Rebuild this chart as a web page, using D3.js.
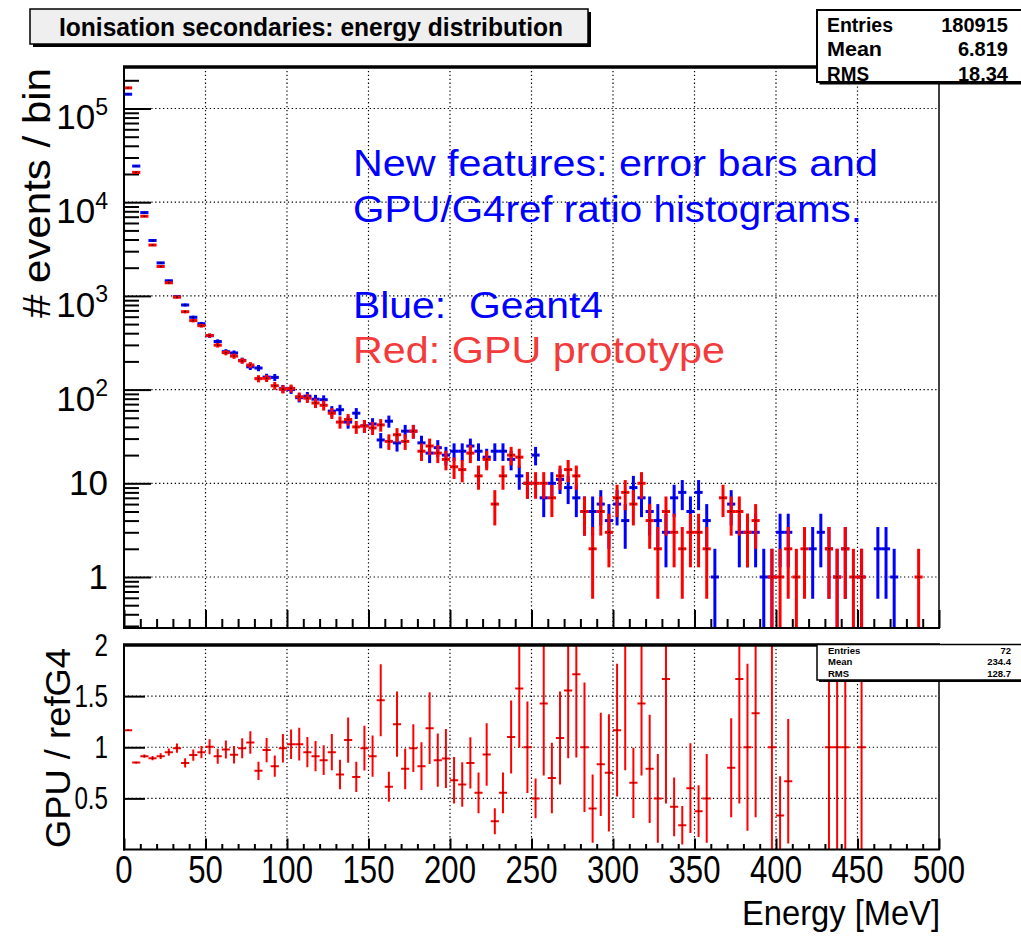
<!DOCTYPE html>
<html>
<head>
<meta charset="utf-8">
<script src="https://cdn.jsdelivr.net/npm/d3@7"></script>
<style>
  html, body { margin: 0; padding: 0; background: #ffffff; }
  svg { display: block; }
  text { font-family: "Liberation Sans", Arial, Helvetica, sans-serif; white-space: pre; }
</style>
</head>
<body>
<svg id="chart" width="1021" height="939"></svg>
<script>
// ---- Histogram contents: 100 bins of 5 MeV from 0 to 500 MeV ----
const binWidth = 5;

// Geant4 reference (blue)
const g4Counts = [
  142000, 24300, 7750, 3900, 2250, 1450, 980, 800, 591, 505,
  376, 326, 254, 246, 205, 175, 170, 136, 135, 102,
  100, 82, 85, 79, 78, 59, 61, 45, 56, 41,
  43, 29, 46, 27, 36, 36, 27, 21, 24, 20,
  22, 22, 25, 22, 19, 22, 22, 18, 12, 10,
  20, 7, 10, 11, 9, 7, 5, 5, 6, 4,
  6, 4, 9, 7, 5, 4, 3, 7, 8, 5,
  8, 4, 1, 0, 6, 3, 3, 3, 1, 1,
  3, 3, 0, 0, 2, 3, 2, 1, 2, 0,
  1, 0, 2, 2, 1, 0, 0, 0, 0, 0
];

// GPU prototype (red)
const gpuCounts = [
  166000, 20800, 7080, 3490, 2060, 1380, 971, 678, 545, 481,
  378, 298, 248, 228, 203, 183, 131, 132, 110, 101,
  103, 84, 81, 72, 68, 56, 45, 48, 40, 41,
  39, 42, 28, 33, 28, 36, 22, 25, 21, 18,
  15, 14, 21, 12, 18, 6, 12, 20, 19, 10,
  10, 10, 7, 12, 14, 12, 5, 2, 5, 3,
  7, 8, 6, 10, 4, 2, 5, 3, 2, 3,
  3, 2, 0, 7, 5, 5, 3, 4, 0, 1,
  1, 2, 1, 2, 0, 0, 2, 1, 2, 1,
  1, 0, 0, 0, 0, 0, 0, 1, 0, 0
];

// GPU / refG4 ratio per bin (null where a bin is empty)
const ratioValues = [
  1.167, 0.850, 0.913, 0.893, 0.913, 0.952, 0.991, 0.847, 0.923, 0.952,
  1.004, 0.913, 0.978, 0.926, 0.991, 1.047, 0.769, 0.972, 0.815, 0.991,
  1.030, 1.030, 0.952, 0.913, 0.874, 0.952, 0.734, 1.070, 0.710, 0.991,
  0.913, 1.460, 0.613, 1.226, 0.789, 0.991, 0.815, 1.187, 0.874, 0.890,
  0.678, 0.636, 0.847, 0.554, 0.930, 0.277, 0.554, 1.100, 1.575, 1.000,
  0.500, 1.429, 0.700, 1.091, 1.556, 1.714, 1.000, 0.400, 0.833, 0.750,
  1.167, 2.000, 0.652, 1.429, 0.789, 0.500, 1.667, 0.417, 0.238, 0.600,
  0.375, 0.500, null, null, 0.800, 1.667, 1.000, 1.333, null, 1.000,
  0.333, 0.667, null, null, null, null, 1.000, 1.000, 1.000, null,
  1.000, null, null, null, null, null, null, null, null, null
];

// Axis ticks and labels
const xMajorTicks = [0, 50, 100, 150, 200, 250, 300, 350, 400, 450, 500];
const xGridTicks = [50, 100, 150, 200, 250, 300, 350, 400, 450];
const yTopDecades = [1, 10, 100, 1000, 10000, 100000];
const yTopLabels = [["1", ""], ["10", ""], ["10", "2"], ["10", "3"], ["10", "4"], ["10", "5"]];
const yLowTicks = [0.5, 1, 1.5];
const yLowLabels = [["0.5", 0.5], ["1", 1], ["1.5", 1.5], ["2", 2]];

const statsMain = [["Entries", "180915"], ["Mean", "6.819"], ["RMS", "18.34"]];
const statsRatio = [["Entries", "72"], ["Mean", "234.4"], ["RMS", "128.7"]];

const noteLines = [
  { text: "New features: error bars and", color: "#0000ff", base: 176, len: 525 },
  { text: "GPU/G4ref ratio histograms.", color: "#0000ff", base: 222, len: 509 },
  { text: "Blue:  Geant4", color: "#0000ff", base: 318, len: 250 },
  { text: "Red: GPU prototype", color: "#f43b3b", base: 363, len: 372 }
];

// ---- Layout ----
const svg = d3.select("#chart");
const xL = 124, xR = 939;
const topY0 = 67, topY1 = 628;
const lowY0 = 645, lowY1 = 849.5;

const x = d3.scaleLinear().domain([0, 500]).range([xL, xR]);
const yTop = d3.scaleLog().domain([Math.pow(10, -0.5443), Math.pow(10, 5.4429)]).range([topY1, topY0]);
const yLow = d3.scaleLinear().domain([0, 2]).range([lowY1, lowY0]);

const defs = svg.append("defs");
defs.append("clipPath").attr("id", "clipTop").append("rect")
  .attr("x", xL).attr("y", topY0).attr("width", xR - xL).attr("height", topY1 - topY0);
defs.append("clipPath").attr("id", "clipLow").append("rect")
  .attr("x", xL).attr("y", lowY0).attr("width", xR - xL).attr("height", lowY1 - lowY0);

// horizontally condensed label helper
function label(parent, tx, ty, sx, anchor, size, parts) {
  const g = parent.append("g").attr("transform", `translate(${tx},${ty}) scale(${sx},1)`);
  const t = g.append("text").attr("text-anchor", anchor).attr("font-size", size).attr("fill", "#000");
  t.append("tspan").text(parts[0]);
  if (parts[1]) t.append("tspan").attr("font-size", size * 0.66).attr("dy", -size * 0.42).text(parts[1]);
  return t;
}

const dotted = "1.3,2.6";

// ================= Upper panel =================
const upper = svg.append("g");

// grid
upper.append("g").selectAll("line").data(xGridTicks).join("line")
  .attr("x1", d => x(d)).attr("x2", d => x(d)).attr("y1", topY0).attr("y2", topY1)
  .attr("stroke", "#000").attr("stroke-width", 1.2).attr("stroke-dasharray", dotted);
upper.append("g").selectAll("line").data(yTopDecades).join("line")
  .attr("x1", xL).attr("x2", xR).attr("y1", d => yTop(d)).attr("y2", d => yTop(d))
  .attr("stroke", "#000").attr("stroke-width", 1.2).attr("stroke-dasharray", dotted);

// y ticks (log): majors and minors drawn inward
const yMinor = [];
[0.1, 1, 10, 100, 1000, 10000, 100000].forEach(dec => {
  for (let k = 2; k <= 9; k++) {
    const v = dec * k;
    if (v >= yTop.domain()[0] && v <= yTop.domain()[1]) yMinor.push(v);
  }
});
upper.append("g").attr("transform", `translate(${xL},0)`)
  .call(d3.axisLeft(yTop).tickValues(yMinor).tickSize(-15).tickFormat(""))
  .call(g => g.select(".domain").remove())
  .call(g => g.selectAll("line").attr("stroke-width", 2));
upper.append("g").attr("transform", `translate(${xL},0)`)
  .call(d3.axisLeft(yTop).tickValues(yTopDecades).tickSize(-27).tickFormat(""))
  .call(g => g.select(".domain").remove())
  .call(g => g.selectAll("line").attr("stroke-width", 2));

// x ticks
const xMinor = d3.range(0, 501, 10).filter(v => v % 50 !== 0);
upper.append("g").attr("transform", `translate(0,${topY1})`)
  .call(d3.axisBottom(x).tickValues(xMinor).tickSize(-9).tickFormat(""))
  .call(g => g.select(".domain").remove())
  .call(g => g.selectAll("line").attr("stroke-width", 2));
upper.append("g").attr("transform", `translate(0,${topY1})`)
  .call(d3.axisBottom(x).tickValues(xMajorTicks).tickSize(-18).tickFormat(""))
  .call(g => g.select(".domain").remove())
  .call(g => g.selectAll("line").attr("stroke-width", 2));

// histogram markers with Poisson error bars
function drawCounts(counts, color) {
  const g = upper.append("g").attr("clip-path", "url(#clipTop)");
  const ymin = yTop.domain()[0];
  counts.forEach((c, i) => {
    if (!c) return;
    const lo = i * binWidth, hi = lo + binWidth, mid = lo + binWidth / 2;
    const e = Math.sqrt(c);
    const yc = yTop(c);
    const yLo = (c - e) > ymin ? yTop(c - e) : topY1 + 2;
    const yHi = yTop(c + e);
    g.append("line").attr("x1", x(lo)).attr("x2", x(hi)).attr("y1", yc).attr("y2", yc)
      .attr("stroke", color).attr("stroke-width", 3);
    g.append("line").attr("x1", x(mid)).attr("x2", x(mid)).attr("y1", yLo).attr("y2", yHi)
      .attr("stroke", color).attr("stroke-width", 3);
    g.append("rect").attr("x", x(mid) - 0.75).attr("y", yc - 0.75).attr("width", 1.5).attr("height", 1.5)
      .attr("fill", "#000");
  });
}
drawCounts(g4Counts, "#0000ff");
drawCounts(gpuCounts, "#ff0000");

// frame
upper.append("line").attr("x1", xL).attr("x2", xL).attr("y1", topY0).attr("y2", topY1 + 1).attr("stroke", "#000").attr("stroke-width", 2);
upper.append("line").attr("x1", xL - 1).attr("x2", xR + 1).attr("y1", topY1).attr("y2", topY1).attr("stroke", "#000").attr("stroke-width", 2);
upper.append("line").attr("x1", xR).attr("x2", xR).attr("y1", topY0).attr("y2", topY1).attr("stroke", "#000").attr("stroke-width", 1.5);
upper.append("line").attr("x1", xL - 1).attr("x2", xR + 1).attr("y1", topY0).attr("y2", topY0).attr("stroke", "#000").attr("stroke-width", 3.5);

// y labels
yTopDecades.forEach((d, i) => {
  const sup = yTopLabels[i][1];
  label(upper, 108, yTop(d) + (sup ? 21 : 12), 1.0, "end", 35, yTopLabels[i]);
});

// axis title
upper.append("text").attr("transform", `translate(50,68) rotate(-90)`)
  .attr("text-anchor", "end").attr("font-size", 39)
  .attr("textLength", 250).attr("lengthAdjust", "spacingAndGlyphs")
  .text("# events / bin");

// annotation
noteLines.forEach(l => {
  upper.append("text").attr("x", 353).attr("y", l.base).attr("font-size", 37)
    .attr("fill", l.color).attr("textLength", l.len).attr("lengthAdjust", "spacingAndGlyphs")
    .text(l.text);
});

// ================= Ratio panel =================
const lower = svg.append("g");

lower.append("g").selectAll("line").data(xGridTicks).join("line")
  .attr("x1", d => x(d)).attr("x2", d => x(d)).attr("y1", lowY0).attr("y2", lowY1)
  .attr("stroke", "#000").attr("stroke-width", 1.2).attr("stroke-dasharray", dotted);
lower.append("g").selectAll("line").data(yLowTicks).join("line")
  .attr("x1", xL).attr("x2", xR).attr("y1", d => yLow(d)).attr("y2", d => yLow(d))
  .attr("stroke", "#000").attr("stroke-width", 1.2).attr("stroke-dasharray", dotted);

lower.append("g").attr("transform", `translate(${xL},0)`)
  .call(d3.axisLeft(yLow).tickValues(yLowTicks).tickSize(-21).tickFormat(""))
  .call(g => g.select(".domain").remove())
  .call(g => g.selectAll("line").attr("stroke-width", 2));
lower.append("g").attr("transform", `translate(0,${lowY1})`)
  .call(d3.axisBottom(x).tickValues(xMinor).tickSize(-5.5).tickFormat(""))
  .call(g => g.select(".domain").remove())
  .call(g => g.selectAll("line").attr("stroke-width", 2));
lower.append("g").attr("transform", `translate(0,${lowY1})`)
  .call(d3.axisBottom(x).tickValues(xMajorTicks).tickSize(-11).tickFormat(""))
  .call(g => g.select(".domain").remove())
  .call(g => g.selectAll("line").attr("stroke-width", 2));

// ratio markers; uncertainty from the two Poisson counts
const gR = lower.append("g").attr("clip-path", "url(#clipLow)");
ratioValues.forEach((r, i) => {
  if (r === null) return;
  const a = gpuCounts[i], b = g4Counts[i];
  const e = r * Math.sqrt(1 / a + 1 / b);
  const lo = i * binWidth, hi = lo + binWidth, mid = lo + binWidth / 2;
  const yc = yLow(r);
  gR.append("line").attr("x1", x(lo)).attr("x2", x(hi)).attr("y1", yc).attr("y2", yc)
    .attr("stroke", "#ff0000").attr("stroke-width", 2);
  gR.append("line").attr("x1", x(mid)).attr("x2", x(mid))
    .attr("y1", yLow(Math.max(r - e, -0.1))).attr("y2", yLow(Math.min(r + e, 2.1)))
    .attr("stroke", "#ff0000").attr("stroke-width", 2);
  gR.append("rect").attr("x", x(mid) - 0.6).attr("y", yc - 0.6).attr("width", 1.2).attr("height", 1.2)
    .attr("fill", "#000");
});

lower.append("line").attr("x1", xL).attr("x2", xL).attr("y1", lowY0).attr("y2", lowY1 + 1).attr("stroke", "#000").attr("stroke-width", 2);
lower.append("line").attr("x1", xL - 1).attr("x2", xR + 1).attr("y1", lowY1).attr("y2", lowY1).attr("stroke", "#000").attr("stroke-width", 2);
lower.append("line").attr("x1", xR).attr("x2", xR).attr("y1", lowY0).attr("y2", lowY1).attr("stroke", "#000").attr("stroke-width", 1.5);
lower.append("line").attr("x1", xL - 1).attr("x2", xR + 1).attr("y1", lowY0).attr("y2", lowY0).attr("stroke", "#000").attr("stroke-width", 3.5);

yLowLabels.forEach(([txt, v]) => label(lower, 108, yLow(v) + 11, 0.78, "end", 31, [txt]));
xMajorTicks.forEach(v => label(lower, x(v), 883, 0.82, "middle", 38, [String(v)]));

lower.append("text").attr("transform", `translate(70,848) rotate(-90)`)
  .attr("text-anchor", "start").attr("font-size", 35)
  .attr("textLength", 200).attr("lengthAdjust", "spacingAndGlyphs")
  .text("GPU / refG4");

lower.append("text").attr("x", 940).attr("y", 925).attr("text-anchor", "end").attr("font-size", 35)
  .attr("textLength", 198).attr("lengthAdjust", "spacingAndGlyphs")
  .text("Energy [MeV]");

// ================= Title and statistics boxes =================
function box(x0, y0, w, h, fill, sw, shadow) {
  svg.append("rect").attr("x", x0 + shadow).attr("y", y0 + shadow).attr("width", w).attr("height", h).attr("fill", "#000");
  svg.append("rect").attr("x", x0).attr("y", y0).attr("width", w).attr("height", h)
    .attr("fill", fill).attr("stroke", "#000").attr("stroke-width", sw);
}

box(30, 9, 558, 35, "#efefef", 1.5, 3);
svg.append("text").attr("x", 59).attr("y", 36).attr("font-size", 25).attr("font-weight", "bold")
  .attr("textLength", 504).attr("lengthAdjust", "spacingAndGlyphs")
  .text("Ionisation secondaries: energy distribution");

box(817, 10, 215, 72, "#ffffff", 2, 2.5);
statsMain.forEach(([k, v], i) => {
  svg.append("text").attr("x", 827).attr("y", 31.5 + i * 24.5).attr("font-size", 20).attr("font-weight", "bold")
    .attr("textLength", k === "Entries" ? 66 : (k === "Mean" ? 55 : 42)).attr("lengthAdjust", "spacingAndGlyphs").text(k);
  svg.append("text").attr("x", 1008).attr("y", 31.5 + i * 24.5).attr("font-size", 20).attr("font-weight", "bold")
    .attr("text-anchor", "end").text(v);
});

box(817, 644.5, 215, 35.5, "#ffffff", 1.5, 2);
statsRatio.forEach(([k, v], i) => {
  svg.append("text").attr("x", 828).attr("y", 653.5 + i * 11.8).attr("font-size", 9.5).attr("font-weight", "bold").text(k);
  svg.append("text").attr("x", 1011).attr("y", 653.5 + i * 11.8).attr("font-size", 9.5).attr("font-weight", "bold")
    .attr("text-anchor", "end").text(v);
});
</script>
</body>
</html>
